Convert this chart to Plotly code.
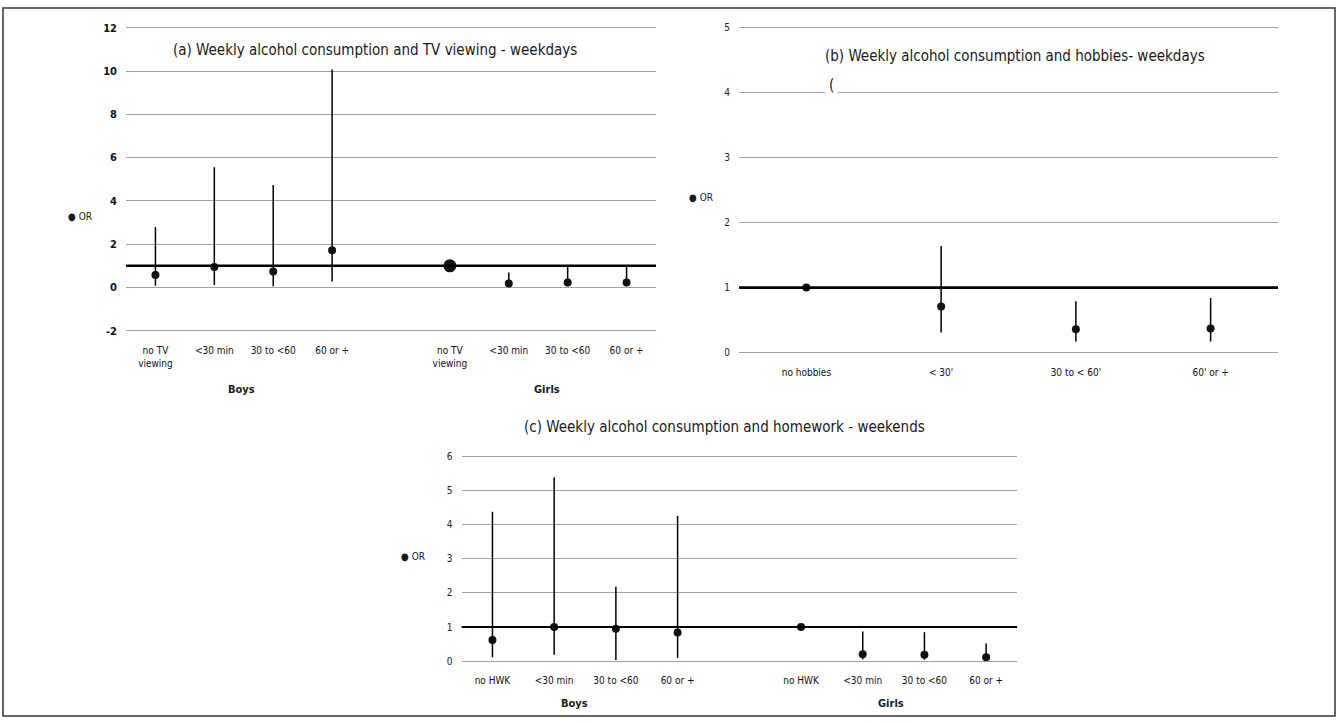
import plotly.graph_objects as go

# ---------------- data ----------------
a_cats = ["no TV<br>viewing", "<30 min", "30 to <60", "60 or +"]
a_boys_or = [0.57, 0.95, 0.74, 1.72]
a_boys_lo = [0.08, 0.11, 0.05, 0.28]
a_boys_hi = [2.79, 5.56, 4.74, 10.07]
a_girls_or = [1.0, 0.18, 0.23, 0.23]
a_girls_lo = [1.0, 0.05, 0.05, 0.05]
a_girls_hi = [1.0, 0.69, 1.0, 1.0]
a_yticks = [-2, 0, 2, 4, 6, 8, 10, 12]

b_cats = ["no hobbies", "< 30'", "30 to < 60'", "60' or +"]
b_or = [1.0, 0.71, 0.36, 0.37]
b_lo = [1.0, 0.31, 0.17, 0.17]
b_hi = [1.0, 1.64, 0.79, 0.84]
b_yticks = [0, 1, 2, 3, 4, 5]

c_cats = ["no HWK", "<30 min", "30 to <60", "60 or +"]
c_boys_or = [0.62, 1.0, 0.95, 0.84]
c_boys_lo = [0.11, 0.19, 0.03, 0.09]
c_boys_hi = [4.38, 5.39, 2.18, 4.26]
c_girls_or = [1.0, 0.2, 0.19, 0.11]
c_girls_lo = [1.0, 0.05, 0.04, 0.03]
c_girls_hi = [1.0, 0.87, 0.85, 0.52]
c_yticks = [0, 1, 2, 3, 4, 5, 6]

titles = {
    "a": "(a) Weekly alcohol consumption and TV viewing - weekdays",
    "b": "(b) Weekly alcohol consumption and hobbies- weekdays",
    "c": "(c) Weekly alcohol consumption and homework - weekends",
}

# ---------------- layout helpers ----------------
W, H = 1338, 723
FONT = "Liberation Sans Narrow, DejaVu Sans Condensed, Roboto, sans-serif"
GRID = "#a3a3a3"
DOT = "#111111"


def px(x):
    return x / W


def py(y):
    return 1 - y / H


fig = go.Figure()


def add_series(xaxis, yaxis, ors, lo, hi, xs, sizes=None):
    fig.add_trace(go.Scatter(
        x=xs, y=ors, mode="markers", xaxis=xaxis, yaxis=yaxis,
        marker=dict(color=DOT, size=sizes if sizes else 8, symbol="circle",
                    opacity=1, line=dict(width=0)),
        error_y=dict(type="data", symmetric=False,
                     array=[h - o for h, o in zip(hi, ors)],
                     arrayminus=[o - l for o, l in zip(ors, lo)],
                     color="black", thickness=1.5, width=0),
        showlegend=False, hoverinfo="skip", cliponaxis=False,
    ))


def two_groups(cats):
    n = len(cats)
    boys = list(range(1, n + 1))
    girls = list(range(n + 2, 2 * n + 2))
    return boys, girls


# panel a
ab, ag = two_groups(a_cats)
add_series("x", "y", a_boys_or, a_boys_lo, a_boys_hi, ab)
add_series("x", "y", a_girls_or, a_girls_lo, a_girls_hi, ag, sizes=[13, 8, 8, 8])
# panel b
bx = list(range(1, len(b_cats) + 1))
add_series("x2", "y2", b_or, b_lo, b_hi, bx)
# panel c
cb, cg = two_groups(c_cats)
add_series("x3", "y3", c_boys_or, c_boys_lo, c_boys_hi, cb)
add_series("x3", "y3", c_girls_or, c_girls_lo, c_girls_hi, cg)

tickfont = dict(family=FONT, size=10, color="#111")


def xaxis_cfg(dom, rng, vals, text, anchor):
    return dict(domain=[px(dom[0]), px(dom[1])], range=rng, tickvals=vals,
                ticktext=text, showgrid=False, zeroline=False, showline=False,
                ticks="", tickfont=tickfont, ticklabelstandoff=8, fixedrange=True,
                anchor=anchor)


def yaxis_cfg(top_px, top_v, bot_px, bot_v, vals, anchor, font):
    # small padding so the edge gridlines are drawn
    ppu = (bot_px - top_px) / (top_v - bot_v)
    pad = 4 / ppu
    return dict(domain=[py(bot_px + 4), py(top_px - 4)], range=[bot_v - pad, top_v + pad],
                tickvals=vals, ticktext=[str(v) for v in vals],
                showgrid=True, gridcolor=GRID, gridwidth=1.4,
                zeroline=False, showline=False, ticks="", tickfont=font,
                ticklabelstandoff=8, anchor=anchor, fixedrange=True)


fig.update_layout(
    width=W, height=H, margin=dict(l=0, r=0, t=0, b=0),
    paper_bgcolor="white", plot_bgcolor="white",
    font=dict(family=FONT, color="#222"),
    xaxis=xaxis_cfg((126, 656), [0.5, 9.5], ab + ag, a_cats + a_cats, "y"),
    yaxis=yaxis_cfg(26, 12, 331, -2, a_yticks, "x",
                    dict(family=FONT, size=11, color="#111", weight="bold")),
    xaxis2=xaxis_cfg((739, 1278), [0.5, 4.5], bx, b_cats, "y2"),
    yaxis2=yaxis_cfg(26, 5, 353, 0, b_yticks, "x2", dict(family=FONT, size=10, color="#222")),
    xaxis3=xaxis_cfg((461.6, 1017), [0.5, 9.5], cb + cg, c_cats + c_cats, "y3"),
    yaxis3=yaxis_cfg(457.7, 6, 663.7, 0, c_yticks, "x3", dict(family=FONT, size=10, color="#222")),
)

# reference line at OR = 1
for xr, yr, w in (("x", "y", 2.6), ("x2", "y2", 2.6), ("x3", "y3", 2.2)):
    fig.add_shape(type="line", xref=f"{xr} domain", yref=yr, x0=0, x1=1, y0=1, y1=1,
                  line=dict(color="black", width=w), layer="above")

ann = []


def text(x, y, s, size=10, bold=False, bg=None, xanchor="center", pad=1):
    d = dict(x=px(x), y=py(y), xref="paper", yref="paper", text=(f"<b>{s}</b>" if bold else s),
             showarrow=False, xanchor=xanchor, yanchor="middle", borderpad=pad,
             font=dict(family=FONT, size=size, color="#1a1a1a"))
    if bg:
        d["bgcolor"] = bg
    ann.append(d)


text(375, 48, titles["a"], size=15)
text(1015, 54, titles["b"], size=15)
text(831, 84, "(", size=15, bg="white", pad=3)
text(724, 428, titles["c"], size=15)

# legend markers
text(66, 216, "● OR", size=10, xanchor="left")
text(687, 197, "● OR", size=10, xanchor="left")
text(399, 558, "● OR", size=10, xanchor="left")

# group labels
text(241, 390, "Boys", size=11, bold=True)
text(547, 390, "Girls", size=11, bold=True)
text(574, 706, "Boys", size=11, bold=True)
text(891, 706, "Girls", size=11, bold=True)

fig.update_layout(annotations=ann)

# outer frame
fig.add_shape(type="rect", xref="paper", yref="paper", x0=px(3), x1=px(1335), y0=py(719), y1=py(6),
              line=dict(color="#333", width=1.5))

fig.write_html("out.html", config={"displayModeBar": False},
               post_script="document.body.style.margin='0';")
